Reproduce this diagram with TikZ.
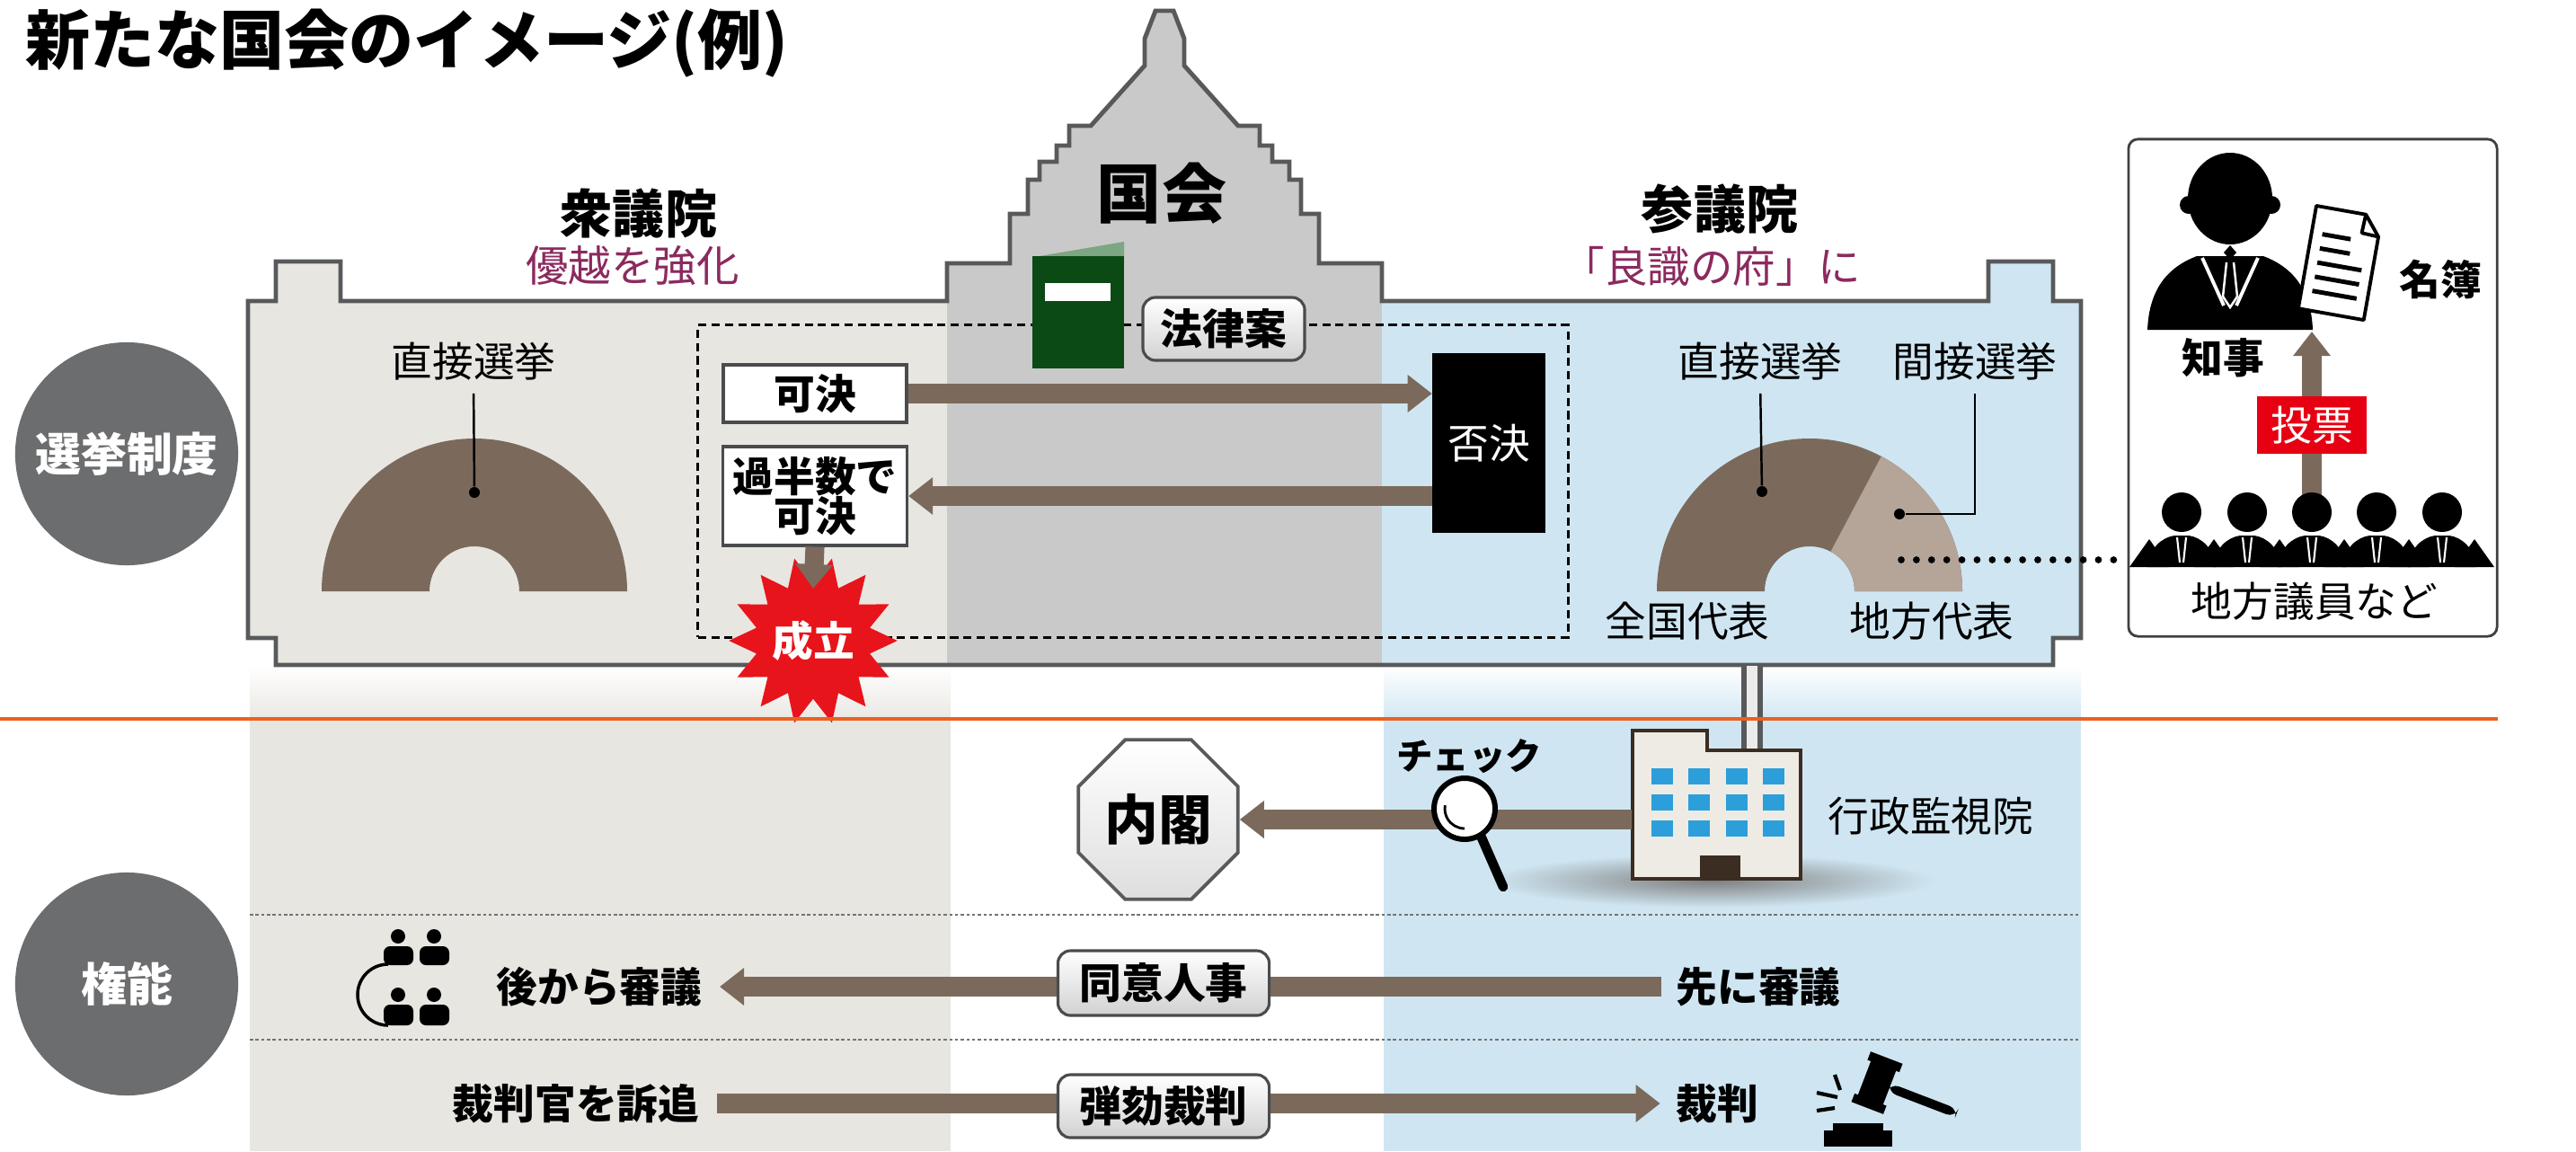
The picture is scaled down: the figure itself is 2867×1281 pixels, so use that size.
\documentclass[tikz,border=0pt]{standalone}
\usepackage{fontspec}
\setmainfont{Noto Sans CJK JP}
\usetikzlibrary{arrows.meta,shapes.geometric,calc}

\definecolor{wallgray}{HTML}{58595B}
\definecolor{edgegray}{HTML}{4A4B4D}
\definecolor{beige}{HTML}{E8E6E1}
\definecolor{domegray}{HTML}{C9C9CA}
\definecolor{sky}{HTML}{CFE6F2}
\definecolor{brownA}{HTML}{7B6A5C}
\definecolor{brownB}{HTML}{B4A598}
\definecolor{plum}{HTML}{8B2A5E}
\definecolor{discgray}{HTML}{6C6D6F}
\definecolor{bookgreen}{HTML}{0B4A15}
\definecolor{flapgreen}{HTML}{7DA683}
\definecolor{burstred}{HTML}{E8141B}
\definecolor{votered}{HTML}{E60012}
\definecolor{rulecol}{HTML}{EB6120}
\definecolor{winblue}{HTML}{2C9FDA}
\definecolor{bldgfill}{HTML}{EEEBE4}
\definecolor{bldgline}{HTML}{3B2D22}

\newcommand\fz[1]{\fontsize{#1}{#1}\selectfont}

% outline of the Diet building: two wings and the stepped central tower
\def\dietpath{(276,335) -- (307,335) -- (307,291) -- (379,291) -- (379,335) -- (1054,335)
 -- (1054,293) -- (1124,293) -- (1124,238) -- (1144,238) -- (1144,200) -- (1157,200)
 -- (1157,180) -- (1176,180) -- (1176,162) -- (1190,162) -- (1190,140) -- (1214,140)
 -- (1274,73) -- (1274,43) -- (1286,12) -- (1306,12) -- (1318,43) -- (1318,73)
 -- (1378,140) -- (1402,140) -- (1402,162) -- (1416,162) -- (1416,180) -- (1435,180)
 -- (1435,200) -- (1448,200) -- (1448,238) -- (1468,238) -- (1468,293) -- (1538,293)
 -- (1538,335) -- (2213,335) -- (2213,291) -- (2285,291) -- (2285,335) -- (2316,335)
 -- (2316,710) -- (2285,710) -- (2285,740) -- (307,740) -- (307,710) -- (276,710) -- cycle}

\begin{document}
\begin{tikzpicture}[x=0.01cm,y=-0.01cm,
  txt/.style={inner sep=0pt,font=\fz{13pt}},
  btxt/.style={inner sep=0pt,font=\fz{13pt}\bfseries},
  house/.style={inner sep=0pt,font=\fz{16.5pt}\bfseries},
  motto/.style={inner sep=0pt,font=\fz{13.5pt},text=plum},
  disc/.style={circle,fill=discgray,text=white,minimum size=2.48cm,inner sep=0pt,font=\fz{14.5pt}\bfseries},
  flow/.style={draw=brownA,line width=6pt,-{Triangle[width=11.4pt,length=7.7pt]}},
  pill/.style={draw=edgegray,line width=0.9pt,rounded corners=4pt,top color=white,bottom color=black!18,inner sep=0pt,font=\fz{13.3pt}\bfseries},
  vbox/.style={draw=edgegray,line width=0.9pt,fill=white,inner sep=0pt,font=\fz{13pt}\bfseries},
  leader/.style={draw=black,line width=0.7pt},
  pin/.style={circle,fill=black,inner sep=0pt,minimum size=0.12cm},
  rowrule/.style={draw=black!55,line width=0.8pt,dash pattern=on 1pt off 0.8pt},
]
\useasboundingbox (0,0) rectangle (2867,1281);

% ---------- columns under the building ----------
\fill[beige] (278,740) rectangle (1058,1281);
\shade[top color=white,bottom color=beige] (278,740) rectangle (1058,805);
\fill[sky] (1540,740) rectangle (2316,1281);
\shade[top color=white,bottom color=sky] (1540,740) rectangle (2316,805);

% ---------- building ----------
\fill[beige] \dietpath;
\begin{scope}
  \clip \dietpath;
  \fill[domegray] (1054,0) rectangle (1538,745);
  \fill[sky] (1538,0) rectangle (2320,745);
\end{scope}
\draw[wallgray,line width=1.4pt] \dietpath;

% ---------- title ----------
\node[inner sep=0pt,font=\fz{20.5pt}\bfseries] (title) at (453,48) {新たな国会のイメージ(例)};

% ---------- house labels ----------
\node[house] (lower) at (711,237) {衆議院};
\node[motto] (lowermotto) at (704,296) {優越を強化};
\node[inner sep=0pt,font=\fz{20.5pt}\bfseries] (diet) at (1293,215) {国会};
\node[house] (upper) at (1914,232) {参議院};
\node[motto] (uppermotto) at (1905,296) {「良識の府」に};

% ---------- side discs ----------
\node[disc] (elect) at (141,505) {選挙制度};
\node[disc] (power) at (141,1095) {権能};

% ---------- legislative flow frame ----------
\node[draw=black,line width=0.9pt,dash pattern=on 2.6pt off 1.6pt,minimum width=9.68cm,minimum height=3.47cm,inner sep=0pt] (frame) at (1261,535.5) {};

% ---------- lower house seats ----------
\fill[brownA] (698,658) arc[start angle=0,end angle=-180,radius=170] -- (478,658) arc[start angle=180,end angle=360,radius=50] -- cycle;
\node[txt] (ldirect) at (527,402) {直接選挙};
\node[pin] (ldot) at (528,548) {};
\draw[leader,shorten <=4pt] (ldirect.south) -- (ldot);

% ---------- upper house seats ----------
\fill[brownA] (2184,658) arc[start angle=0,end angle=-180,radius=170] -- (1964,658) arc[start angle=180,end angle=360,radius=50] -- cycle;
\fill[brownB] (2064,658) -- (2184,658) arc[start angle=0,end angle=-62,radius=170] -- ($(2014,658)+(-62:50)$) arc[start angle=-62,end angle=0,radius=50] -- cycle;
\node[txt] (rdirect) at (1959,402) {直接選挙};
\node[txt] (rindirect) at (2198,402) {間接選挙};
\node[pin] (rdot1) at (1961,547) {};
\node[pin] (rdot2) at (2114,572) {};
\draw[leader,shorten <=4pt] (rdirect.south) -- (rdot1);
\draw[leader,shorten <=4pt] (rindirect.south) -- (rindirect.south |- rdot2) -- (rdot2);
\node[txt] (national) at (1878,691) {全国代表};
\node[txt] (regional) at (2150,691) {地方代表};

% ---------- bill ----------
\fill[flapgreen] (1151,286) -- (1251,269) -- (1251,288) -- (1151,288) -- cycle;
\fill[bookgreen] (1149,285) rectangle (1251,410);
\fill[white] (1163,315) rectangle (1236,335);
\node[pill,minimum width=1.8cm,minimum height=0.7cm] (bill) at (1362,366) {法律案};

% ---------- votes in the two houses ----------
\node[vbox,minimum width=2.04cm,minimum height=0.64cm] (pass) at (907,438) {可決};
\node[vbox,minimum width=2.05cm,minimum height=1.1cm,align=center,font=\fontsize{13pt}{12.5pt}\selectfont\bfseries] (twice) at (907,552) {過半数で\\可決};
\node[fill=black,text=white,minimum width=1.25cm,minimum height=2cm,inner sep=0pt,font=\fz{13pt}] (reject) at (1657,493) {否決};
\draw[flow] (pass.east) -- (pass.east -| reject.west);
\draw[flow] (reject.west |- twice.east) -- (twice.east);
\node[star,star points=14,star point ratio=1.45,shape border rotate=12.857,fill=burstred,text=white,minimum size=1.5cm,inner sep=0pt,font=\fz{13pt}\bfseries] (enact) at (905,713) {成立};
\draw[flow] (twice.south) -- ($(enact.center)+(0,-58)$);

% ---------- prefectural panel ----------
\node[draw=black!75,line width=0.8pt,rounded corners=3pt,fill=white,minimum width=4.1cm,minimum height=5.53cm,inner sep=0pt] (pref) at (2574,431.5) {};
\coordinate (seatlink) at (2116,623);
\draw[black,line width=2.2pt,dash pattern=on 0pt off 4.8pt,line cap=round] (seatlink) -- (pref.west |- seatlink);

\coordinate (govbase) at (2573,369);
\coordinate (voters) at (2573,565);
\draw[flow] (voters) -- (govbase);

% governor
\fill (2482,221) ellipse[x radius=47,y radius=51];
\fill (2436,228) circle[radius=10];
\fill (2528,228) circle[radius=10];
\fill (2482,273) -- (2489,281) -- (2482,289) -- (2475,281) -- cycle;
\fill (2390,367) .. controls (2392,318) and (2416,296) .. (2445,285) -- (2519,285) .. controls (2548,296) and (2572,318) .. (2574,367) -- cycle;
\draw[white,line width=1.1pt] (2451,287) -- (2475,340);
\draw[white,line width=1.1pt] (2513,287) -- (2489,340);
\draw[white,line width=0.7pt] (2478,292) -- (2474,330) -- (2482,342) -- (2490,330) -- (2486,292);
\node[btxt] (governor) at (2474,398) {知事};

% list of candidates
\begin{scope}[shift={(2578,229)},rotate=-10]
  \filldraw[fill=white,draw=black,line width=1.1pt,line join=round] (0,0) -- (56,0) -- (74,22) -- (74,116) -- (0,116) -- cycle;
  \draw[line width=1.1pt,line join=round] (56,0) -- (55,21) -- (74,22);
  \foreach \yy/\xe in {30/44,46/46,62/62,78/62,94/62}
    \draw[line width=1.4pt] (12,\yy) -- (\xe,\yy);
\end{scope}
\node[btxt] (roster) at (2716,311) {名簿};

% local assembly members
\fill (2389,617) rectangle (2757,631);
\foreach \mx in {2392,2464,2537,2609,2681,2754}
  \fill (\mx-22,631) -- (\mx,600) -- (\mx+22,631) -- cycle;
\foreach \hx in {2428,2501,2573,2645,2718}{
  \fill (\hx,570) circle[radius=22];
  \fill (\hx-38,631) .. controls (\hx-36,610) and (\hx-22,598) .. (\hx-8,596) -- (\hx+8,596) .. controls (\hx+22,598) and (\hx+36,610) .. (\hx+38,631) -- cycle;
  \draw[white,line width=0.6pt] (\hx-5,598) -- (\hx-2,626);
  \draw[white,line width=0.6pt] (\hx+5,598) -- (\hx+2,626);
}
\node[fill=votered,text=white,minimum width=1.22cm,minimum height=0.63cm,inner sep=0pt,font=\fz{13pt}] (vote) at (2573,473) {投票};
\node[txt] (members) at (2576,669) {地方議員など};

% ---------- divider ----------
\coordinate (ruleL) at (0,800);
\coordinate (ruleR) at (2780,800);

% ---------- administrative oversight body ----------
\node[minimum width=1.87cm,minimum height=1.65cm,inner sep=0pt] (agency) at (1910.5,895.5) {};
\coordinate (linkBot) at (1950,741);
\coordinate (linkTop) at (1950,835);
\draw[wallgray,line width=6.8pt] (linkBot) -- (linkTop);
\draw[black!8,line width=3.2pt] (linkBot) -- (linkTop);
\draw[rulecol,line width=1.4pt] (ruleL) -- (ruleR);

\shade[inner color=black!50,outer color=sky] (1905,980) ellipse[x radius=250,y radius=30];
\filldraw[fill=bldgfill,draw=bldgline,line width=1.1pt] (1817,978) -- (1817,813) -- (1900,813) -- (1900,835) -- (2004,835) -- (2004,978) -- cycle;
\foreach \wx in {1838,1879,1921,1962}
  \foreach \wy in {855,884,913}
    \fill[winblue] (\wx,\wy) rectangle ++(24,18);
\fill[bldgline] (1892,952) rectangle (1937,978);
\node[txt] (agencyname) at (2149,908) {行政監視院};

\node[regular polygon,regular polygon sides=8,minimum size=1.92cm,inner sep=0pt,draw=wallgray,line width=1.1pt,top color=white,bottom color=black!13,font=\fz{17pt}\bfseries] (cabinet) at (1289,912) {内閣};
\draw[flow] (agency.west |- cabinet.east) -- (cabinet.east);

% magnifier
\coordinate (lens) at (1630,900);
\draw[line width=3pt,line cap=round] (1648,930) -- (1673,987);
\filldraw[fill=white,draw=black,line width=1.7pt] (lens) circle[radius=34];
\draw[line width=0.8pt] (lens) ++(90:22) arc[start angle=90,end angle=190,radius=22];
\node[txt,font=\fz{11.5pt}\bfseries] (check) at (1635,842) {チェック};

% ---------- powers ----------
\draw[rowrule] (278,1018) -- (2316,1018);
\draw[rowrule] (278,1157) -- (2316,1157);

% deliberation icon
\fill (443,1042) circle[radius=8];
\fill (483,1042) circle[radius=8];
\fill[rounded corners=2] (427,1053) rectangle (460,1074);
\fill[rounded corners=2] (467,1053) rectangle (500,1074);
\fill (443,1107) circle[radius=8];
\fill (483,1107) circle[radius=8];
\fill[rounded corners=2] (427,1118) rectangle (460,1141);
\fill[rounded corners=2] (467,1118) rectangle (500,1141);
\draw[line width=1pt] (432,1073) arc[start angle=-90,end angle=-270,radius=34];

\node[btxt] (later) at (667,1098) {後から審議};
\node[btxt] (first) at (1957,1098) {先に審議};
\draw[flow,shorten <=4.5pt,shorten >=5.4pt] (first) -- (later);
\node[pill,minimum width=2.35cm,minimum height=0.72cm] (consent) at (1295,1094) {同意人事};

\node[btxt] (accuse) at (641,1228) {裁判官を訴追};
\node[btxt] (trial) at (1911,1228) {裁判};
\draw[flow,shorten <=5.4pt,shorten >=4.8pt] (accuse) -- (trial);
\node[pill,minimum width=2.35cm,minimum height=0.7cm] (impeach) at (1295,1231) {弾劾裁判};

% gavel
\begin{scope}[shift={(2089,1205)},rotate=-21]
  \fill[rounded corners=2] (-15,-27) rectangle (15,27);
  \fill (-19,-30) rectangle (19,-20);
  \fill (-19,20) rectangle (19,30);
  \fill[rounded corners=3] (14,-5) rectangle (95,5);
\end{scope}
\draw[line width=1.2pt] (2042,1196) -- (2048,1213);
\draw[line width=1.2pt] (2022,1216) -- (2045,1221);
\draw[line width=1.2pt] (2022,1236) -- (2042,1233);
\fill (2030,1258) rectangle (2106,1276);
\fill (2040,1250) rectangle (2096,1259);
\end{tikzpicture}
\end{document}
